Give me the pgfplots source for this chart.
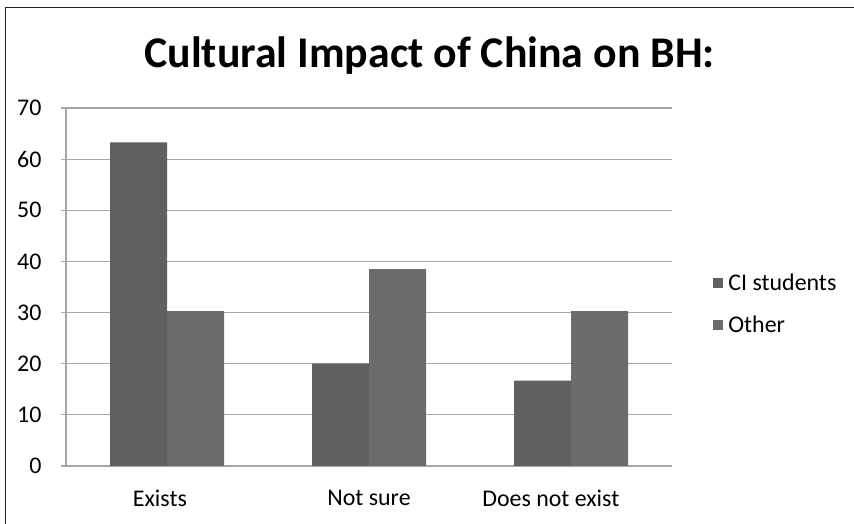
\documentclass[border=0pt]{standalone}
\usepackage{pgfplots}
\pgfplotsset{compat=1.18}
\usepackage{fontspec}
\setmainfont{Carlito}
\definecolor{ci}{HTML}{606060}
\definecolor{oth}{HTML}{6C6C6C}
\definecolor{gridc}{HTML}{A6A6A6}
\begin{document}
\begin{tikzpicture}[x=1bp,y=1bp]
\useasboundingbox (0,0) rectangle (854,524);
\draw[line width=1.5bp, black!85] (5.5,0) -- (5.5,516.5) -- (854,516.5);
\node[font=\bfseries\fontsize{44}{50}\selectfont, anchor=base] at (429.5,456) {Cultural Impact of China on BH:};
\begin{axis}[at={(66bp,58bp)}, anchor=south west, scale only axis,
  width=606bp, height=358bp,
  ybar=0pt, bar width=57bp,
  ymin=0, ymax=70, ytick={0,10,...,70},
  xmin=-0.5, xmax=2.5, xtick={-0.035,1,1.9},
  xticklabels={Exists,Not sure,Does not exist},
  ymajorgrids, grid style={gridc, line width=1.2bp},
  axis x line*=bottom, axis y line*=left,
  axis line style={gridc, line width=1.2bp, -},
  tick align=outside, major tick length=5bp,
  ytick style={gridc, line width=1.2bp},
  xtick style={draw=none},
  /pgf/number format/assume math mode=true,
  tick label style={font=\fontsize{24}{29}\selectfont, black},
  yticklabel style={xshift=-16bp},
  xticklabel style={yshift=-16bp},
  legend style={at={(1.063,0.4525)}, anchor=west, draw=none, fill=none,
    font=\fontsize{24}{29}\selectfont, row sep=20bp,
    legend cell align=left},
  legend image code/.code={\fill[#1] (0bp,-5bp) rectangle (10bp,5bp); \path (13bp,0bp);},
]
\addplot[fill=ci, draw=none] coordinates {(0,63.3) (1,20) (2,16.7)};
\addplot[fill=oth, draw=none] coordinates {(0,30.3) (1,38.5) (2,30.3)};
\legend{CI students, Other}
\end{axis}
\end{tikzpicture}
\end{document}
